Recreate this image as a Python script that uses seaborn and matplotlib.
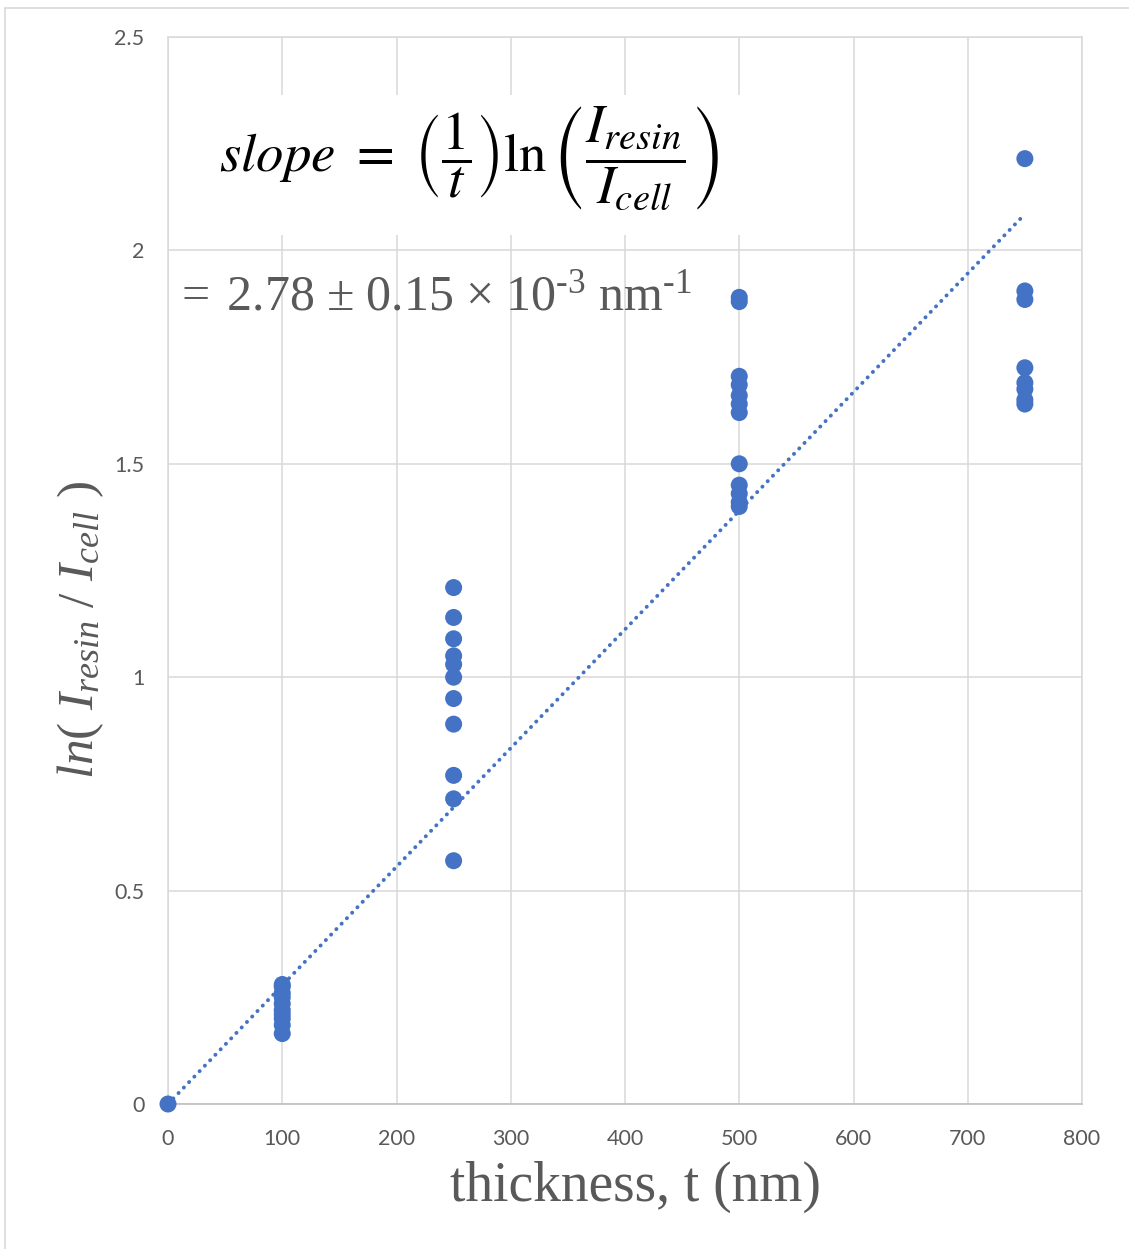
import matplotlib
matplotlib.use("Agg")
import matplotlib.pyplot as plt
import seaborn as sns
import pandas as pd
import numpy as np
from matplotlib.lines import Line2D
from matplotlib.patches import Rectangle

# Measured ln(I_resin / I_cell) for each section thickness (nm)
t_0 = [0]
ln_0 = [0.0]
t_100 = [100] * 10
ln_100 = [0.28, 0.275, 0.26, 0.25, 0.235, 0.22, 0.21, 0.20, 0.185, 0.165]
t_250 = [250] * 11
ln_250 = [1.21, 1.14, 1.09, 1.05, 1.03, 1.00, 0.95, 0.89, 0.77, 0.715, 0.57]
t_500 = [500] * 12
ln_500 = [1.89, 1.88, 1.705, 1.685, 1.66, 1.64, 1.62, 1.50, 1.45, 1.43, 1.41, 1.40]
t_750 = [750] * 8
ln_750 = [2.215, 1.905, 1.885, 1.725, 1.69, 1.675, 1.65, 1.64]

# Fitted slope through the origin (nm^-1) and range of the trendline
slope = 2.78e-3
fit_x = [0, 750]

x_ticks = [0, 100, 200, 300, 400, 500, 600, 700, 800]
y_ticks = [0, 0.5, 1, 1.5, 2, 2.5]
y_tick_labels = ["0", "0.5", "1", "1.5", "2", "2.5"]

df = pd.DataFrame({
    "thickness": t_0 + t_100 + t_250 + t_500 + t_750,
    "lnratio": ln_0 + ln_100 + ln_250 + ln_500 + ln_750,
})

sns.set_theme(style="white")
plt.rcParams["font.family"] = ["Lato", "DejaVu Sans"]
plt.rcParams["mathtext.fontset"] = "custom"
plt.rcParams["mathtext.rm"] = "Liberation Serif"
plt.rcParams["mathtext.it"] = "Liberation Serif:italic"
plt.rcParams["mathtext.bf"] = "Liberation Serif:bold"

blue = "#4472C4"
grid = "#d9d9d9"
txt = "#595959"

fig = plt.figure(figsize=(11.29, 12.49), dpi=100)
ax = fig.add_axes([168 / 1129, 1 - 1104 / 1249, (1082 - 168) / 1129, (1104 - 37) / 1249])

ax.set_xlim(0, 800)
ax.set_ylim(0, 2.5)
ax.set_xticks(x_ticks)
ax.set_yticks(y_ticks)
ax.set_yticklabels(y_tick_labels)
ax.grid(True, color=grid, lw=1.1, zorder=0)
ax.set_axisbelow(True)
for s in ["top", "right", "left"]:
    ax.spines[s].set_color(grid)
    ax.spines[s].set_linewidth(1.1)
ax.spines["bottom"].set_color("#bfbfbf")
ax.spines["bottom"].set_linewidth(1.2)
ax.tick_params(axis="both", length=0, labelsize=15.5, labelcolor=txt)
ax.tick_params(axis="x", pad=18)
ax.tick_params(axis="y", pad=17)

# White panel behind the equation
ax.add_patch(Rectangle((5, 2.035), 500, 0.33, facecolor="white",
                       edgecolor="none", zorder=1))

# Linear trendline through the origin
fit_y = [slope * x for x in fit_x]
ax.plot(fit_x, fit_y, color=blue, lw=2.8, linestyle=(0, (0.05, 1.9)),
        dash_capstyle="round", zorder=2)

sns.scatterplot(data=df, x="thickness", y="lnratio", ax=ax, color=blue,
                s=150, edgecolor="none", linewidth=0, zorder=3, clip_on=False)

ax.set_xlabel("thickness, t (nm)", family="Liberation Serif", fontsize=40,
              color=txt, labelpad=11)
ax.xaxis.set_label_coords(0.512, -0.053)
ax.set_ylabel(r"$ln(\ I_{resin}\ /\ I_{cell}\ )$", fontsize=37, color=txt)
ax.yaxis.set_label_coords(-0.068, 0.444)

ax.text(45, 2.215, r"$slope\ =\ \left(\dfrac{1}{t}\right)\ln\left(\dfrac{I_{resin}}{I_{cell}}\right)$",
        fontsize=39.5, color="black", math_fontfamily="stix", va="center",
        ha="left", zorder=4)
ax.text(5, 1.895,
        "${=}\\;2.78\\ {\\pm}\\ 0.15\\ {\\times}\\ 10^{\u20103}\\ \\mathrm{nm}^{\u20101}$",
        fontsize=36, color=txt, va="center", ha="left", zorder=4)

# Thin frame lines along the top and left of the figure
fig.add_artist(Line2D([5 / 1129, 1], [1 - 8 / 1249, 1 - 8 / 1249],
                      transform=fig.transFigure, color=grid, lw=1.2))
fig.add_artist(Line2D([5 / 1129, 5 / 1129], [0, 1 - 8 / 1249],
                      transform=fig.transFigure, color=grid, lw=1.2))

fig.savefig("out.png", dpi=100, facecolor="white")
